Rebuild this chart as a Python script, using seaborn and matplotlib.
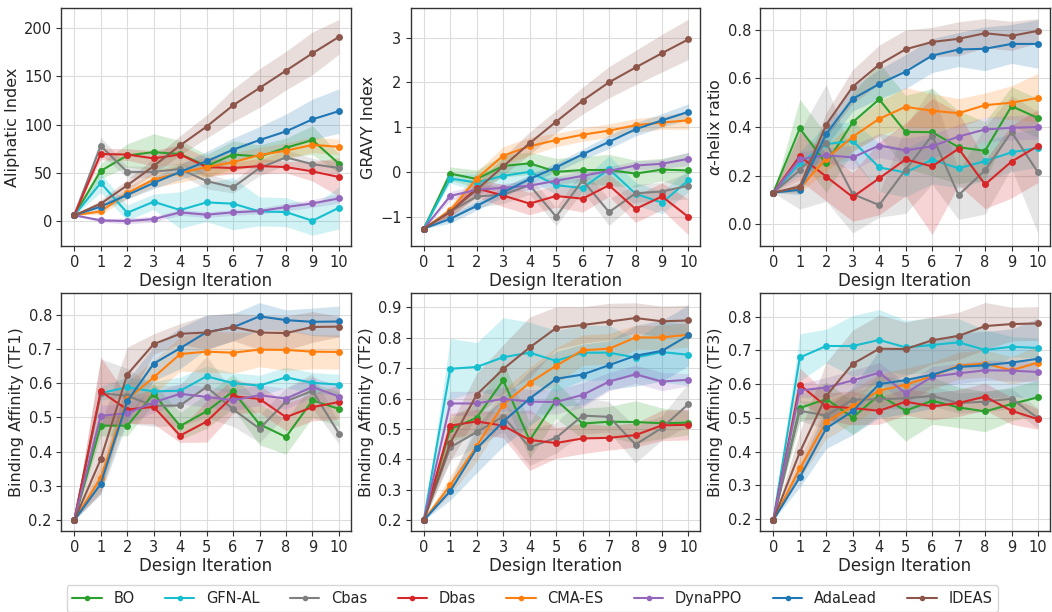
import numpy as np
import matplotlib
matplotlib.use('Agg')
import matplotlib.pyplot as plt
import seaborn as sns
from matplotlib.lines import Line2D

sns.set_style('ticks')
plt.rcParams['font.family'] = ['DejaVu Sans']

iterations = list(range(11))
methods = ['BO', 'GFN-AL', 'Cbas', 'Dbas', 'CMA-ES', 'DynaPPO', 'AdaLead', 'IDEAS']
colors = ['#2ca02c', '#17becf', '#7f7f7f', '#d62728', '#ff7f0e', '#9467bd', '#1f77b4', '#8c564b']

'''
Aliphatic index
'''
aliph_mean = {
    'BO':      [6, 52, 68, 71.5, 69.5, 57, 69, 67, 76, 84, 59.5],
    'GFN-AL':  [6, 39.5, 8.6, 20, 11.4, 19.4, 18, 10, 9.3, 0.3, 13.8],
    'Cbas':    [6, 78, 51, 51, 54, 41.5, 35, 55, 66, 59, 55],
    'Dbas':    [6, 69.5, 69, 65, 69, 56, 55, 57, 56, 51.5, 45.7],
    'CMA-ES':  [6, 10, 29, 43, 50, 56, 61, 68.5, 73, 79, 77],
    'DynaPPO': [6, 0.7, 0, 2, 9, 6.6, 9, 10.4, 14.5, 18.3, 23.5],
    'AdaLead': [6, 15, 27, 39.5, 51, 62, 74, 84, 93, 105.5, 114],
    'IDEAS':   [6, 18, 37, 57, 78.5, 98, 120, 138, 156, 174, 191],
}
aliph_std = {
    'BO':      [0, 8, 12, 19, 14, 12, 14, 12, 10, 15, 10],
    'GFN-AL':  [0, 10, 8, 8, 19, 20, 27, 15, 15, 15, 22],
    'Cbas':    [0, 9, 6, 6, 6, 8, 6, 8, 8, 6, 6],
    'Dbas':    [0, 6, 6, 8, 10, 10, 6, 8, 6, 10, 20],
    'CMA-ES':  [0, 3, 6, 8, 10, 10, 10, 8, 8, 8, 8],
    'DynaPPO': [0, 2, 3, 3, 3, 3, 3, 3, 4, 4, 5],
    'AdaLead': [0, 3, 4, 6, 8, 10, 12, 14, 18, 21, 23],
    'IDEAS':   [0, 4, 6, 8, 10, 12, 17, 20, 20, 22, 18],
}

'''
GRAVY index
'''
gravy_mean = {
    'BO':      [-1.27, -0.04, -0.16, 0.13, 0.19, 0.0, 0.04, 0.04, -0.04, 0.05, 0.03],
    'GFN-AL':  [-1.27, -0.15, -0.24, -0.09, 0.0, -0.3, -0.36, 0.06, -0.49, -0.69, -0.19],
    'Cbas':    [-1.27, -0.89, -0.55, -0.51, -0.3, -1.0, -0.19, -0.9, -0.48, -0.44, -0.31],
    'Dbas':    [-1.27, -0.89, -0.37, -0.53, -0.71, -0.54, -0.6, -0.3, -0.83, -0.55, -1.01],
    'CMA-ES':  [-1.27, -0.86, -0.15, 0.36, 0.57, 0.71, 0.83, 0.92, 1.04, 1.1, 1.15],
    'DynaPPO': [-1.27, -0.54, -0.4, -0.36, -0.31, -0.2, -0.09, 0.02, 0.14, 0.18, 0.29],
    'AdaLead': [-1.27, -1.05, -0.76, -0.46, -0.16, 0.1, 0.39, 0.67, 0.95, 1.15, 1.34],
    'IDEAS':   [-1.27, -0.89, -0.4, 0.12, 0.64, 1.12, 1.59, 2.0, 2.33, 2.65, 2.96],
}
gravy_std = {
    'BO':      [0, 0.15, 0.2, 0.25, 0.25, 0.3, 0.3, 0.35, 0.3, 0.25, 0.4],
    'GFN-AL':  [0, 0.1, 0.2, 0.25, 0.2, 0.2, 0.2, 0.3, 0.25, 0.25, 0.25],
    'Cbas':    [0, 0.1, 0.25, 0.2, 0.2, 0.2, 0.25, 0.3, 0.2, 0.2, 0.3],
    'Dbas':    [0, 0.1, 0.2, 0.25, 0.25, 0.25, 0.3, 0.25, 0.3, 0.3, 0.4],
    'CMA-ES':  [0, 0.1, 0.15, 0.2, 0.2, 0.15, 0.15, 0.15, 0.15, 0.15, 0.2],
    'DynaPPO': [0, 0.1, 0.1, 0.1, 0.1, 0.1, 0.1, 0.1, 0.1, 0.1, 0.15],
    'AdaLead': [0, 0.1, 0.1, 0.1, 0.1, 0.1, 0.12, 0.15, 0.15, 0.15, 0.18],
    'IDEAS':   [0, 0.1, 0.15, 0.2, 0.25, 0.25, 0.3, 0.35, 0.38, 0.42, 0.45],
}

'''
alpha-helix ratio
'''
helix_mean = {
    'BO':      [0.13, 0.394, 0.25, 0.42, 0.514, 0.38, 0.379, 0.317, 0.302, 0.486, 0.437],
    'GFN-AL':  [0.13, 0.25, 0.33, 0.343, 0.234, 0.213, 0.266, 0.23, 0.26, 0.296, 0.314],
    'Cbas':    [0.13, 0.222, 0.335, 0.124, 0.079, 0.225, 0.365, 0.12, 0.222, 0.38, 0.213],
    'Dbas':    [0.13, 0.28, 0.196, 0.112, 0.189, 0.267, 0.238, 0.311, 0.164, 0.258, 0.322],
    'CMA-ES':  [0.13, 0.149, 0.27, 0.36, 0.434, 0.483, 0.467, 0.457, 0.49, 0.5, 0.52],
    'DynaPPO': [0.13, 0.268, 0.284, 0.275, 0.324, 0.304, 0.321, 0.361, 0.39, 0.397, 0.4],
    'AdaLead': [0.13, 0.142, 0.372, 0.516, 0.577, 0.628, 0.694, 0.719, 0.722, 0.742, 0.742],
    'IDEAS':   [0.13, 0.155, 0.41, 0.566, 0.657, 0.72, 0.75, 0.763, 0.786, 0.775, 0.796],
}
helix_std = {
    'BO':      [0, 0.12, 0.12, 0.12, 0.15, 0.15, 0.18, 0.15, 0.12, 0.08, 0.08],
    'GFN-AL':  [0, 0.05, 0.08, 0.08, 0.1, 0.1, 0.1, 0.08, 0.08, 0.08, 0.08],
    'Cbas':    [0, 0.16, 0.24, 0.16, 0.05, 0.18, 0.2, 0.1, 0.18, 0.15, 0.25],
    'Dbas':    [0, 0.1, 0.1, 0.1, 0.15, 0.15, 0.28, 0.15, 0.1, 0.15, 0.15],
    'CMA-ES':  [0, 0.02, 0.05, 0.06, 0.07, 0.08, 0.07, 0.06, 0.05, 0.07, 0.1],
    'DynaPPO': [0, 0.03, 0.03, 0.05, 0.05, 0.05, 0.05, 0.05, 0.05, 0.05, 0.05],
    'AdaLead': [0, 0.02, 0.05, 0.05, 0.06, 0.07, 0.07, 0.07, 0.09, 0.08, 0.1],
    'IDEAS':   [0, 0.02, 0.05, 0.07, 0.08, 0.08, 0.06, 0.07, 0.06, 0.06, 0.05],
}

'''
Binding affinity TF1
'''
tf1_mean = {
    'BO':      [0.2, 0.476, 0.476, 0.569, 0.475, 0.518, 0.576, 0.48, 0.443, 0.55, 0.525],
    'GFN-AL':  [0.2, 0.571, 0.588, 0.576, 0.578, 0.62, 0.6, 0.593, 0.617, 0.601, 0.596],
    'Cbas':    [0.2, 0.571, 0.563, 0.534, 0.535, 0.589, 0.524, 0.467, 0.547, 0.578, 0.453],
    'Dbas':    [0.2, 0.576, 0.523, 0.531, 0.447, 0.488, 0.562, 0.554, 0.501, 0.53, 0.545],
    'CMA-ES':  [0.2, 0.324, 0.553, 0.617, 0.685, 0.692, 0.689, 0.698, 0.697, 0.692, 0.691],
    'DynaPPO': [0.2, 0.505, 0.512, 0.544, 0.569, 0.56, 0.55, 0.565, 0.555, 0.589, 0.561],
    'AdaLead': [0.2, 0.306, 0.547, 0.657, 0.702, 0.749, 0.763, 0.795, 0.784, 0.779, 0.78],
    'IDEAS':   [0.2, 0.378, 0.625, 0.714, 0.744, 0.748, 0.764, 0.748, 0.746, 0.764, 0.765],
}
tf1_std = {
    'BO':      [0, 0.03, 0.03, 0.03, 0.04, 0.05, 0.05, 0.06, 0.05, 0.05, 0.05],
    'GFN-AL':  [0, 0.02, 0.03, 0.03, 0.04, 0.03, 0.03, 0.03, 0.03, 0.03, 0.03],
    'Cbas':    [0, 0.1, 0.08, 0.06, 0.06, 0.09, 0.05, 0.04, 0.04, 0.05, 0.03],
    'Dbas':    [0, 0.1, 0.04, 0.05, 0.02, 0.06, 0.05, 0.04, 0.04, 0.04, 0.05],
    'CMA-ES':  [0, 0.04, 0.05, 0.05, 0.05, 0.06, 0.06, 0.05, 0.06, 0.05, 0.05],
    'DynaPPO': [0, 0.03, 0.03, 0.03, 0.03, 0.03, 0.03, 0.03, 0.03, 0.03, 0.03],
    'AdaLead': [0, 0.03, 0.06, 0.05, 0.06, 0.05, 0.04, 0.04, 0.03, 0.04, 0.045],
    'IDEAS':   [0, 0.1, 0.08, 0.03, 0.03, 0.05, 0.04, 0.05, 0.05, 0.045, 0.03],
}

'''
Binding affinity TF2
'''
tf2_mean = {
    'BO':      [0.2, 0.499, 0.537, 0.66, 0.463, 0.595, 0.518, 0.524, 0.523, 0.519, 0.521],
    'GFN-AL':  [0.2, 0.698, 0.704, 0.736, 0.751, 0.724, 0.751, 0.751, 0.735, 0.753, 0.744],
    'Cbas':    [0.2, 0.44, 0.49, 0.541, 0.44, 0.471, 0.544, 0.54, 0.449, 0.504, 0.582],
    'Dbas':    [0.2, 0.511, 0.525, 0.511, 0.464, 0.454, 0.469, 0.471, 0.48, 0.512, 0.514],
    'CMA-ES':  [0.2, 0.315, 0.444, 0.58, 0.652, 0.708, 0.759, 0.764, 0.801, 0.801, 0.81],
    'DynaPPO': [0.2, 0.584, 0.584, 0.599, 0.59, 0.589, 0.612, 0.656, 0.68, 0.656, 0.662],
    'AdaLead': [0.2, 0.296, 0.436, 0.524, 0.6, 0.665, 0.679, 0.71, 0.741, 0.757, 0.808],
    'IDEAS':   [0.2, 0.454, 0.613, 0.697, 0.768, 0.832, 0.842, 0.853, 0.865, 0.854, 0.857],
}
tf2_std = {
    'BO':      [0, 0.04, 0.05, 0.06, 0.06, 0.06, 0.05, 0.05, 0.07, 0.05, 0.04],
    'GFN-AL':  [0, 0.1, 0.08, 0.13, 0.1, 0.1, 0.09, 0.09, 0.06, 0.1, 0.1],
    'Cbas':    [0, 0.04, 0.05, 0.05, 0.06, 0.05, 0.06, 0.05, 0.06, 0.04, 0.07],
    'Dbas':    [0, 0.04, 0.04, 0.04, 0.1, 0.05, 0.05, 0.04, 0.04, 0.05, 0.05],
    'CMA-ES':  [0, 0.03, 0.05, 0.05, 0.05, 0.06, 0.05, 0.05, 0.04, 0.04, 0.04],
    'DynaPPO': [0, 0.04, 0.04, 0.04, 0.04, 0.04, 0.04, 0.03, 0.03, 0.03, 0.02],
    'AdaLead': [0, 0.03, 0.08, 0.08, 0.09, 0.09, 0.1, 0.08, 0.1, 0.1, 0.1],
    'IDEAS':   [0, 0.06, 0.07, 0.08, 0.1, 0.07, 0.06, 0.06, 0.05, 0.05, 0.05],
}

'''
Binding affinity TF3
'''
tf3_mean = {
    'BO':      [0.197, 0.529, 0.556, 0.501, 0.568, 0.521, 0.551, 0.531, 0.519, 0.541, 0.561],
    'GFN-AL':  [0.197, 0.679, 0.713, 0.713, 0.731, 0.709, 0.716, 0.724, 0.701, 0.711, 0.707],
    'Cbas':    [0.197, 0.521, 0.507, 0.554, 0.555, 0.558, 0.565, 0.544, 0.548, 0.557, 0.499],
    'Dbas':    [0.197, 0.598, 0.534, 0.529, 0.521, 0.548, 0.534, 0.544, 0.563, 0.521, 0.496],
    'CMA-ES':  [0.197, 0.35, 0.488, 0.534, 0.581, 0.598, 0.624, 0.655, 0.661, 0.641, 0.664],
    'DynaPPO': [0.197, 0.581, 0.59, 0.611, 0.634, 0.573, 0.622, 0.632, 0.641, 0.64, 0.636],
    'AdaLead': [0.197, 0.324, 0.469, 0.52, 0.6, 0.612, 0.628, 0.651, 0.656, 0.664, 0.675],
    'IDEAS':   [0.197, 0.398, 0.565, 0.66, 0.705, 0.704, 0.73, 0.743, 0.772, 0.778, 0.78],
}
tf3_std = {
    'BO':      [0, 0.04, 0.05, 0.05, 0.06, 0.09, 0.07, 0.06, 0.06, 0.05, 0.05],
    'GFN-AL':  [0, 0.07, 0.05, 0.09, 0.09, 0.08, 0.08, 0.07, 0.06, 0.03, 0.03],
    'Cbas':    [0, 0.03, 0.04, 0.03, 0.03, 0.03, 0.03, 0.03, 0.03, 0.03, 0.03],
    'Dbas':    [0, 0.05, 0.04, 0.05, 0.04, 0.04, 0.04, 0.04, 0.04, 0.04, 0.03],
    'CMA-ES':  [0, 0.03, 0.05, 0.05, 0.05, 0.05, 0.04, 0.04, 0.04, 0.04, 0.05],
    'DynaPPO': [0, 0.02, 0.03, 0.03, 0.03, 0.03, 0.03, 0.03, 0.03, 0.03, 0.03],
    'AdaLead': [0, 0.03, 0.06, 0.07, 0.1, 0.1, 0.1, 0.1, 0.1, 0.1, 0.12],
    'IDEAS':   [0, 0.06, 0.1, 0.1, 0.1, 0.08, 0.07, 0.07, 0.07, 0.05, 0.05],
}

panels = [
    (aliph_mean, aliph_std, 'Aliphatic Index', (-26, 221), [0, 50, 100, 150, 200]),
    (gravy_mean, gravy_std, 'GRAVY Index', (-1.66, 3.66), [-1, 0, 1, 2, 3]),
    (helix_mean, helix_std, r'$\alpha$-helix ratio', (-0.09, 0.89), [0.0, 0.2, 0.4, 0.6, 0.8]),
    (tf1_mean, tf1_std, 'Binding Affinity (TF1)', (0.168, 0.863), [0.2, 0.3, 0.4, 0.5, 0.6, 0.7, 0.8]),
    (tf2_mean, tf2_std, 'Binding Affinity (TF2)', (0.164, 0.947), [0.2, 0.3, 0.4, 0.5, 0.6, 0.7, 0.8, 0.9]),
    (tf3_mean, tf3_std, 'Binding Affinity (TF3)', (0.164, 0.87), [0.2, 0.3, 0.4, 0.5, 0.6, 0.7, 0.8]),
]

fig, axes = plt.subplots(2, 3, figsize=(10.52, 6.12), dpi=100)
fig.subplots_adjust(left=0.058, right=0.998, top=0.987, bottom=0.132, wspace=0.206, hspace=0.197)

x = np.array(iterations)
for ax, (means, stds, ylabel, ylim, yticks) in zip(axes.flat, panels):
    for name, col in zip(methods, colors):
        m = np.array(means[name])
        s = np.array(stds[name])
        ax.fill_between(x, m - s, m + s, color=col, alpha=0.2, linewidth=0)
        sns.lineplot(x=x, y=m, ax=ax, color=col, marker='o', markersize=5,
                     markeredgewidth=0, linewidth=1.5)
    ax.set_xlim(-0.5, 10.45)
    ax.set_ylim(*ylim)
    ax.set_xticks(iterations)
    ax.set_yticks(yticks)
    ax.grid(True, color='#d9d9d9', linewidth=0.8, alpha=0.9)
    ax.set_axisbelow(True)
    ax.tick_params(labelsize=10.5, color='#333333', pad=3)
    ax.set_xlabel('Design Iteration', fontsize=12, labelpad=1)
    ax.set_ylabel(ylabel, fontsize=11.5, labelpad=3)
    for sp in ax.spines.values():
        sp.set_color('#333333')
        sp.set_linewidth(1.0)

handles = [Line2D([0], [0], color=c, marker='o', markersize=3, linewidth=1.5) for c in colors]
fig.legend(handles, methods, loc='lower center', ncol=8, bbox_to_anchor=(0.506, -0.012),
           fontsize=10.5, frameon=True, handlelength=2, columnspacing=2.1, fancybox=True)

plt.savefig('out.png', dpi=100)
